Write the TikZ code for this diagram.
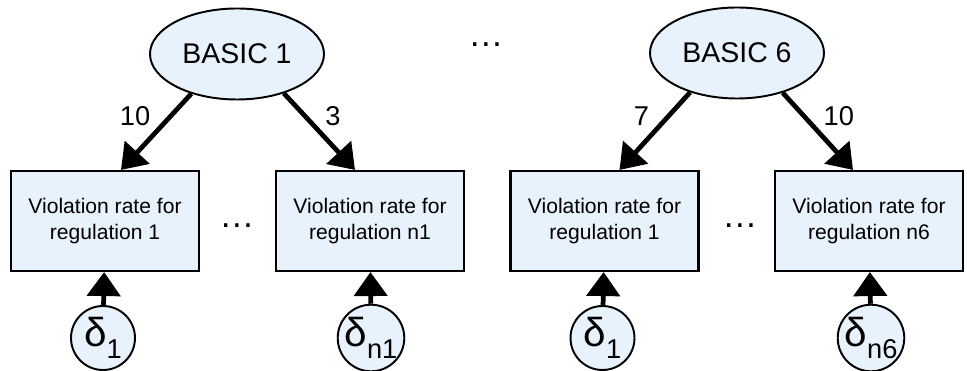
\documentclass[tikz,border=0pt]{standalone}
\usepackage{fontspec}
\setmainfont{Liberation Sans}
\usetikzlibrary{arrows.meta,shapes.geometric}
\definecolor{boxblue}{RGB}{232,242,252}
\begin{document}
\begin{tikzpicture}[
  basic/.style={ellipse, draw, line width=1.1pt, fill=boxblue, minimum width=3.48cm, minimum height=1.82cm, inner sep=0pt, font=\fontsize{16.2}{19}\selectfont},
  rate/.style={rectangle, draw, line width=1.2pt, fill=boxblue, minimum width=3.76cm, minimum height=2cm, align=center, font=\fontsize{12}{14.8}\selectfont},
  err/.style={circle, draw, line width=1.1pt, fill=boxblue, minimum size=1.28cm, inner sep=0pt, font=\fontsize{23}{24}\selectfont},
  arr/.style={line width=2.7pt, -{Triangle[length=0.48cm, width=0.66cm]}},
  wt/.style={font=\fontsize{15.5}{17}\selectfont, inner sep=2pt},
  dots/.style={font=\fontsize{20}{22}\selectfont, anchor=base, inner sep=0pt}
]
\useasboundingbox (0,0) rectangle (19.34,7.42);

\node[basic] (b1) at (4.74,6.34) {BASIC 1};
\node[basic] (b6) at (14.74,6.36) {BASIC 6};
\node[dots] (top) at (9.72,6.48) {\ldots};

\node[rate] (r1) at (2.1,3.0) {Violation rate for\\regulation 1};
\node[rate] (r2) at (7.4,3.0) {Violation rate for\\regulation n1};
\node[rate] (r3) at (12.09,3.0) {Violation rate for\\regulation 1};
\node[rate] (r4) at (17.38,3.0) {Violation rate for\\regulation n6};
\node[dots] (m1) at (4.74,2.86) {\ldots};
\node[dots] (m6) at (14.8,2.86) {\ldots};

\node[err] (d1) at (2.06,0.66) {δ\raisebox{-6.5pt}{\fontsize{15.5}{16}\selectfont 1}};
\node[err] (d2) at (7.42,0.66) {δ\raisebox{-6.5pt}{\fontsize{15.5}{16}\selectfont n1}};
\node[err] (d3) at (12.05,0.66) {δ\raisebox{-6.5pt}{\fontsize{15.5}{16}\selectfont 1}};
\node[err] (d4) at (17.42,0.66) {δ\raisebox{-6.5pt}{\fontsize{15.5}{16}\selectfont n6}};

\draw[arr] (b1.221) -- ([xshift=0.32cm]r1.north) node[wt, midway, above left] {10};
\draw[arr] (b1.320) -- ([xshift=-0.3cm]r2.north) node[wt, midway, above right] {3};
\draw[arr] (b6.220) -- ([xshift=0.3cm]r3.north) node[wt, midway, above left] {7};
\draw[arr] (b6.319) -- ([xshift=-0.32cm]r4.north) node[wt, midway, above right] {10};

\draw[arr] (d1) -- (r1);
\draw[arr] (d2) -- (r2);
\draw[arr] (d3) -- (r3);
\draw[arr] (d4) -- (r4);
\end{tikzpicture}
\end{document}
